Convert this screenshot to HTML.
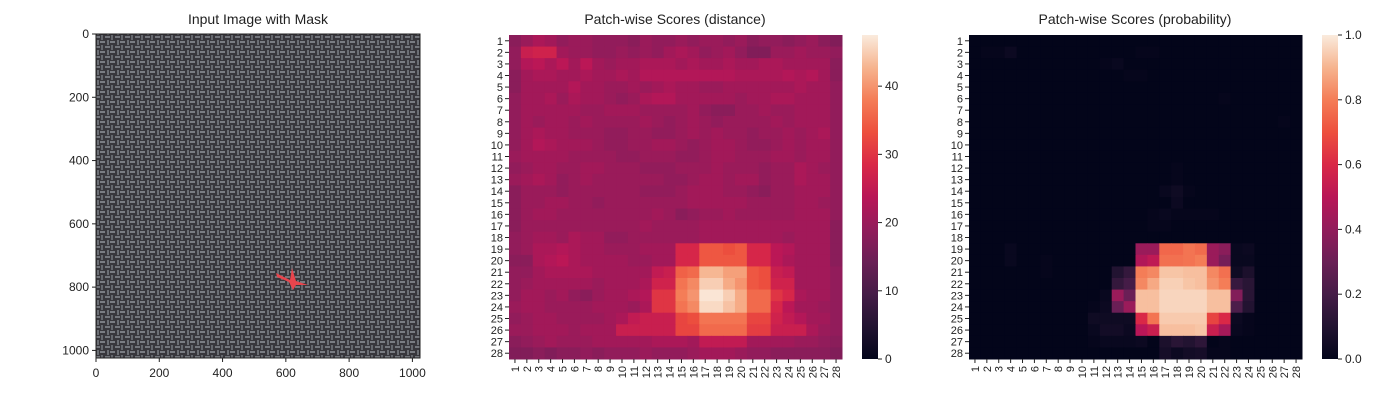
<!DOCTYPE html>
<html><head><meta charset="utf-8"><style>
html,body{margin:0;padding:0;background:#fff;}
svg{display:block;font-family:"Liberation Sans","DejaVu Sans",sans-serif;}
</style></head><body>
<svg id="fig" width="1400" height="400" viewBox="0 0 1400 400">
<defs>
<pattern id="weave" width="10" height="10" patternUnits="userSpaceOnUse">
<rect width="10" height="10" fill="#38373c"/>
<rect x="0" y="1" width="5" height="2" fill="#7a7d83"/>
<rect x="7" y="0" width="2" height="5" fill="#6c6f75"/>
<rect x="5" y="6" width="5" height="2" fill="#73767c"/>
<rect x="1" y="5" width="2" height="5" fill="#64676d"/>
</pattern>
<linearGradient id="cbar" x1="0" y1="1" x2="0" y2="0">
<stop offset="0" stop-color="#03051A"/><stop offset="0.1" stop-color="#221331"/><stop offset="0.2" stop-color="#451C47"/><stop offset="0.3" stop-color="#6A1F56"/><stop offset="0.4" stop-color="#921C5B"/><stop offset="0.5" stop-color="#B91657"/><stop offset="0.6" stop-color="#D92847"/><stop offset="0.7" stop-color="#ED503E"/><stop offset="0.8" stop-color="#F47D57"/><stop offset="0.9" stop-color="#F6B48F"/><stop offset="1" stop-color="#FAEBDD"/>
</linearGradient>
</defs>
<g>
<text x="258" y="24" text-anchor="middle" font-size="14" fill="#222">Input Image with Mask</text>
<rect x="96" y="34" width="324" height="324" fill="url(#weave)"/>
<path d="M276,273 L290,280 L292,268 L296,281 L308,285 L296,285 L293,290 L289,282 L277,277 Z" fill="#e8454d"/>
<rect x="96" y="34" width="324" height="324" fill="none" stroke="#222" stroke-width="1"/>
<g id="imgTicks" font-size="12" fill="#222"></g>
</g>
<g id="p2">
<text x="675" y="24" text-anchor="middle" font-size="14" fill="#222">Patch-wise Scores (distance)</text>
</g>
<g id="p3">
<text x="1135" y="24" text-anchor="middle" font-size="14" fill="#222">Patch-wise Scores (probability)</text>
</g>
</svg>
<script>
const rowLabels = Array.from({length:28},(_,i)=>String(i+1));
const imgTicks = [0,200,400,600,800,1000];
const distTicks = [0,10,20,30,40];
const probTicks = [0.0,0.2,0.4,0.6,0.8,1.0];
const distMax = 47.5;
const probMax = 1.0;
const distance = [
[18,20,22,21,19,20,20,19,19,19,18,20,19,19,20,19,20,20,19,20,18,19,19,18,19,20,18,17],
[19,26,27,27,21,20,20,19,19,20,19,20,19,21,22,21,19,20,21,19,17,17,20,20,21,20,20,19],
[19,23,24,22,24,21,24,21,20,21,21,22,22,22,21,22,21,21,22,21,21,22,22,21,21,21,21,18],
[18,21,22,22,21,21,22,21,21,22,21,23,23,23,23,23,23,23,23,22,22,22,22,23,22,23,21,18],
[18,21,21,21,21,23,21,21,20,20,21,20,21,22,21,21,20,20,21,21,21,21,21,21,22,21,21,19],
[19,21,21,22,20,22,21,21,20,19,20,22,23,23,21,21,21,21,21,20,21,21,22,22,21,21,21,19],
[19,21,21,21,21,21,20,20,21,21,21,20,20,20,20,21,19,18,18,20,20,21,20,20,21,21,21,19],
[19,21,20,21,21,20,21,20,20,20,20,21,20,19,20,21,20,19,20,20,20,20,21,20,21,21,21,19],
[19,21,22,21,21,20,20,20,19,19,20,20,19,19,20,21,20,21,20,20,19,20,20,21,20,21,22,19],
[19,21,23,22,21,21,21,20,19,19,20,20,21,21,20,19,20,21,21,20,19,19,20,21,20,21,21,19],
[20,21,21,21,21,20,20,20,20,19,19,20,20,20,19,19,20,21,21,20,20,20,21,21,20,21,21,19],
[19,20,21,21,20,20,21,21,20,20,20,19,19,19,20,20,20,21,20,20,20,19,20,20,22,21,20,19],
[20,21,22,21,19,20,21,20,20,20,20,20,20,19,19,20,21,21,20,21,21,19,20,20,22,21,21,19],
[18,20,20,20,19,20,20,20,20,20,20,19,19,19,20,21,21,21,20,20,19,18,20,20,21,21,21,19],
[18,20,20,21,21,20,20,19,20,20,20,20,20,20,20,21,21,21,21,21,20,20,20,20,21,21,20,19],
[18,20,21,21,20,20,20,20,20,20,20,20,21,20,18,19,20,20,21,20,20,20,20,20,21,21,21,19],
[18,20,20,20,20,20,20,20,20,20,20,21,20,20,20,20,21,21,21,21,21,21,21,21,21,21,21,18],
[19,20,21,21,20,22,21,21,19,19,20,20,20,20,20,20,21,21,21,21,21,21,21,20,21,21,21,18],
[19,20,22,22,23,22,21,21,20,20,20,21,21,21,28,28,34,34,33,34,28,28,24,23,21,21,21,18],
[18,18,22,23,24,22,21,21,21,21,20,20,21,21,28,28,34,34,34,34,28,28,24,22,21,21,21,18],
[19,19,21,22,22,22,22,21,21,21,21,21,25,26,35,36,43,43,41,41,34,33,26,25,21,21,21,19],
[19,20,21,21,21,21,21,20,21,21,21,22,27,27,37,39,45,45,42,40,34,33,27,27,21,21,21,19],
[19,21,21,20,21,19,18,20,21,21,22,23,30,30,38,40,47,47,45,42,36,36,30,28,22,21,21,19],
[20,21,21,20,20,20,20,21,21,21,20,22,30,30,37,39,46,46,44,42,36,36,28,24,21,21,20,19],
[19,20,21,21,20,20,20,20,21,22,25,26,26,26,32,33,37,37,37,37,32,32,27,25,23,21,21,19],
[20,20,21,21,21,20,21,21,21,26,26,26,26,26,32,32,36,36,36,36,31,31,26,26,26,22,20,19],
[18,19,20,21,20,20,20,21,21,21,21,21,22,22,22,21,25,25,25,25,21,21,21,21,20,20,19,18],
[17,17,18,17,18,18,19,18,19,19,19,20,19,19,19,20,21,21,21,20,19,19,18,18,18,18,18,17]
];
const probability = [
[0,0,0,0,0,0,0,0,0,0,0,0,0,0,0,0,0,0,0,0,0,0,0,0,0,0,0,0],
[0,0.01,0.01,0.03,0,0,0,0,0,0,0,0,0,0,0.01,0.01,0,0,0,0,0,0,0,0,0,0,0,0],
[0,0,0,0,0,0,0,0,0,0,0,0.01,0.02,0,0,0,0,0,0,0,0,0,0,0,0,0,0,0],
[0,0,0,0,0,0,0,0,0,0,0,0,0,0.01,0.01,0,0,0,0,0,0,0,0,0,0,0,0,0],
[0,0,0,0,0,0,0,0,0,0,0,0,0,0,0,0,0,0,0,0,0,0,0,0,0,0,0,0],
[0,0,0,0,0,0,0,0,0,0,0,0,0,0,0,0,0,0,0,0,0,0.01,0,0,0,0,0,0],
[0,0,0,0,0,0,0,0,0,0,0,0,0,0,0,0,0,0,0,0,0,0,0,0,0,0,0,0],
[0,0,0,0,0,0,0,0,0,0,0,0,0,0,0,0,0,0,0,0,0,0,0,0,0,0,0.01,0],
[0,0,0,0,0,0,0,0,0,0,0,0,0,0,0,0,0,0,0,0,0,0,0,0,0,0,0,0],
[0,0,0,0,0,0,0,0,0,0,0,0,0,0,0,0,0,0,0,0,0,0,0,0,0,0,0,0],
[0,0,0,0,0,0,0,0,0,0,0,0,0,0,0,0,0,0,0,0,0,0,0,0,0,0,0,0],
[0,0,0,0,0,0,0,0,0,0,0,0,0,0,0,0,0,0.01,0,0,0,0,0,0,0,0,0,0],
[0,0,0,0,0,0,0,0,0,0,0,0,0,0,0,0,0,0.01,0,0,0,0,0,0,0,0,0,0],
[0,0,0,0,0,0,0,0,0,0,0,0,0,0,0,0,0.02,0.04,0.01,0,0,0,0,0,0,0,0,0],
[0,0,0,0,0,0,0,0,0,0,0,0,0,0,0,0,0,0.03,0,0,0,0,0,0,0,0,0,0],
[0,0,0,0,0,0,0,0,0,0,0,0,0,0,0,0.01,0.02,0.01,0.01,0.01,0.01,0,0,0,0,0,0,0],
[0,0,0,0,0,0,0,0,0,0,0,0,0,0,0,0.01,0.01,0,0,0,0,0,0,0,0,0,0,0],
[0,0,0,0,0,0,0,0,0,0,0,0,0,0,0,0,0,0,0,0,0,0,0,0,0,0,0,0],
[0,0,0,0.02,0,0,0,0,0,0,0,0,0,0,0.42,0.42,0.75,0.75,0.78,0.76,0.42,0.38,0.02,0.03,0,0,0,0],
[0,0,0,0.02,0,0,0.01,0,0,0,0,0,0,0,0.48,0.52,0.77,0.77,0.78,0.8,0.42,0.33,0.02,0.02,0,0,0,0],
[0,0,0,0,0,0,0.01,0,0,0,0,0,0.1,0.15,0.8,0.82,0.93,0.93,0.92,0.92,0.82,0.77,0.04,0.08,0,0,0,0],
[0,0,0,0,0,0,0,0,0,0,0,0,0.15,0.2,0.82,0.88,0.95,0.95,0.93,0.92,0.84,0.8,0.16,0.12,0,0,0,0],
[0,0,0,0,0,0,0,0,0,0,0,0.02,0.42,0.3,0.92,0.92,0.96,0.96,0.96,0.96,0.92,0.92,0.36,0.12,0,0,0,0],
[0,0,0,0,0,0,0,0,0,0,0.01,0.03,0.3,0.42,0.92,0.92,0.96,0.96,0.96,0.96,0.92,0.92,0.22,0.1,0,0,0,0],
[0,0,0,0,0,0,0,0,0,0,0.04,0.04,0.04,0.04,0.6,0.78,0.94,0.94,0.94,0.94,0.67,0.6,0.03,0.01,0,0,0,0],
[0,0,0,0,0,0,0,0,0,0,0.02,0.05,0.05,0.03,0.5,0.55,0.92,0.92,0.92,0.93,0.55,0.45,0.02,0.01,0,0,0,0],
[0,0,0,0,0,0,0,0,0,0,0.01,0.02,0.02,0.02,0.03,0,0.08,0.12,0.1,0.13,0,0.01,0,0,0,0,0,0],
[0,0,0,0,0,0,0,0,0,0,0,0,0,0,0,0,0.06,0.03,0.05,0.06,0.01,0.01,0,0,0,0,0,0]
];
</script>
<script>
const NS='http://www.w3.org/2000/svg';
const fig=document.getElementById('fig');
const stops=[[3,5,26],[34,19,49],[69,28,71],[106,31,86],[146,28,91],[185,22,87],[217,40,71],[237,80,62],[244,125,87],[246,180,143],[250,235,221]];
function rocket(t){t=Math.max(0,Math.min(1,t));const p=t*10;const i=Math.min(9,Math.floor(p));const f=p-i;const a=stops[i],b=stops[i+1];
return 'rgb('+a.map((v,k)=>Math.round(v+(b[k]-v)*f)).join(',')+')';}
function mk(tag,attrs,parent){const e=document.createElementNS(NS,tag);for(const k in attrs)e.setAttribute(k,attrs[k]);parent.appendChild(e);return e;}
const ig=document.getElementById('imgTicks');
const ix=v=>96+v*(324/1024), iy=v=>34+v*(324/1024);
imgTicks.forEach(v=>{
 const l1=mk('line',{x1:ix(v),x2:ix(v),y1:358,y2:362,stroke:'#222'},ig);
 
 
 const t1=mk('text',{x:ix(v),y:377,'text-anchor':'middle'},ig);t1.textContent=v;
 
 
 const l2=mk('line',{x1:92,x2:96,y1:iy(v),y2:iy(v),stroke:'#222'},ig);
 
 
 const t2=mk('text',{x:89,y:iy(v)+4,'text-anchor':'end'},ig);t2.textContent=v;
 
 
});
function heatmap(gid,data,vmax,x0,cbx,ticks,fmt,prefix){
 const g=document.getElementById(gid);
 const x1=x0+333,y0=35,y1=359;
 const cw=(x1-x0)/28,ch=(y1-y0)/28;
 const xs=c=>x0+c*cw, ys=r=>y0+r*ch;
 data.forEach((row,r)=>row.forEach((v,c)=>{
  const rc=mk('rect',{x:xs(c),y:ys(r),width:cw+0.5,height:ch+0.5,fill:rocket(v/vmax)},g);
  
  
 }));
 rowLabels.forEach((lab,i)=>{
  const ty=ys(i)+ch/2;
  const l=mk('line',{x1:x0-4,x2:x0,y1:ty,y2:ty,stroke:'#222'},g);
  
  
  const t=mk('text',{x:x0-6,y:ty+4,'text-anchor':'end','font-size':11,fill:'#222'},g);t.textContent=lab;
  
  
  const tx=xs(i)+cw/2;
  const l2=mk('line',{x1:tx,x2:tx,y1:y1,y2:y1+4,stroke:'#222'},g);
  
  
  const t2=mk('text',{x:tx+4,y:y1+7,'text-anchor':'end','font-size':11,fill:'#222',transform:'rotate(-90 '+(tx+4)+' '+(y1+7)+')'},g);t2.textContent=lab;
  
  
 });
 const cb=mk('rect',{x:cbx,y:y0,width:16,height:y1-y0,fill:'url(#cbar)'},g);
 
 
 const cy=v=>y1-(v/vmax)*(y1-y0);
 ticks.forEach(v=>{
  const l=mk('line',{x1:cbx+16,x2:cbx+20,y1:cy(v),y2:cy(v),stroke:'#222'},g);
  
  
  const t=mk('text',{x:cbx+23,y:cy(v)+4,'font-size':12,fill:'#222'},g);t.textContent=fmt(v);
  
  
 });
}
heatmap('p2',distance,distMax,509,862,distTicks,v=>String(v),'distance');
heatmap('p3',probability,probMax,969,1322,probTicks,v=>v.toFixed(1),'probability');
</script>
</body></html>
